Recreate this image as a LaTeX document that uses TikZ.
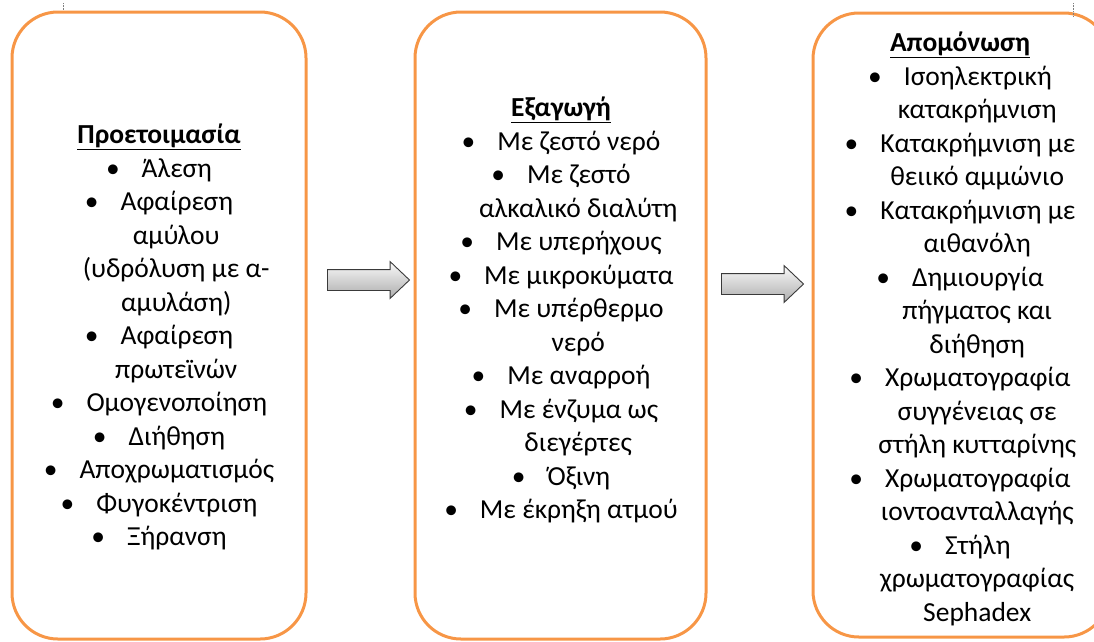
\documentclass[tikz,border=0pt]{standalone}
\usepackage{fontspec}
\setmainfont{Carlito}
\usetikzlibrary{shapes.arrows}

\definecolor{boxorange}{HTML}{F79646}
\definecolor{arrowedge}{HTML}{3A3A3A}

% bullet line and continuation line (hanging indent)
\newcommand{\bitem}[1]{\textbullet\hspace{0.8em}#1}
\newcommand{\cont}[1]{\hspace*{1.25em}#1}

\tikzset{
  stagebox/.style={draw=boxorange, line width=3pt, rounded corners=46pt},
  stagetext/.style={align=center, inner sep=0pt, text=black,
    font={\fontsize{27.5}{33.5}\selectfont}},
  flowarrow/.style={single arrow, draw=arrowedge, line width=0.9pt,
    top color=gray!4, bottom color=gray!65, minimum height=82pt,
    inner xsep=0pt, inner ysep=10pt, single arrow head extend=8pt,
    single arrow tip angle=87}
}

\begin{document}
\begin{tikzpicture}[x=1pt, y=-1pt]
  \useasboundingbox (0,0) rectangle (1094,641);
  \clip (0,0) rectangle (1094,641);

  % Stage boxes
  \node[stagebox, minimum width=294pt, minimum height=627pt] (prep) at (159,325.5) {};
  \node[stagebox, minimum width=291pt, minimum height=627pt] (extr) at (560.5,325.5) {};
  \node[stagebox, minimum width=297pt, minimum height=624pt] (isol) at (961.5,325) {};

  % Stage texts
  \node[stagetext] (preptext) at (159,337) {\underline{\textbf{Προετοιμασία}}\\
    \bitem{Άλεση}\\ \bitem{Αφαίρεση}\\ \cont{αμύλου}\\ \cont{(υδρόλυση με α-}\\
    \cont{αμυλάση)}\\ \bitem{Αφαίρεση}\\ \cont{πρωτεϊνών}\\ \bitem{Ομογενοποίηση}\\
    \bitem{Διήθηση}\\ \bitem{Αποχρωματισμός}\\ \bitem{Φυγοκέντριση}\\ \bitem{Ξήρανση}};

  \node[stagetext] (extrtext) at (561,310) {\underline{\textbf{Εξαγωγή}}\\
    \bitem{Με ζεστό νερό}\\ \bitem{Με ζεστό}\\ \cont{αλκαλικό διαλύτη}\\
    \bitem{Με υπερήχους}\\ \bitem{Με μικροκύματα}\\ \bitem{Με υπέρθερμο}\\
    \cont{νερό}\\ \bitem{Με αναρροή}\\ \bitem{Με ένζυμα ως}\\ \cont{διεγέρτες}\\
    \bitem{Όξινη}\\ \bitem{Με έκρηξη ατμού}};

  \node[stagetext] (isoltext) at (960,329) {\underline{\textbf{Απομόνωση}}\\
    \bitem{Ισοηλεκτρική}\\ \cont{κατακρήμνιση}\\ \bitem{Κατακρήμνιση με}\\
    \cont{θειικό αμμώνιο}\\ \bitem{Κατακρήμνιση με}\\ \cont{αιθανόλη}\\
    \bitem{Δημιουργία}\\ \cont{πήγματος και}\\ \cont{διήθηση}\\
    \bitem{Χρωματογραφία}\\ \cont{συγγένειας σε}\\ \cont{στήλη κυτταρίνης}\\
    \bitem{Χρωματογραφία}\\ \cont{ιοντοανταλλαγής}\\ \bitem{Στήλη}\\
    \cont{χρωματογραφίας}\\ \cont{Sephadex}};

  % Block arrows between the stages
  \node[flowarrow] (arrowone) at (363,280) {};
  \node[flowarrow] (arrowtwo) at (757,284) {};

  % small anchor marks at the top
  \draw[gray, densely dotted, line width=0.6pt] (63,3) -- (63,10);
  \draw[gray, densely dotted, line width=0.6pt] (1073,3) -- (1073,16);

\end{tikzpicture}
\end{document}
